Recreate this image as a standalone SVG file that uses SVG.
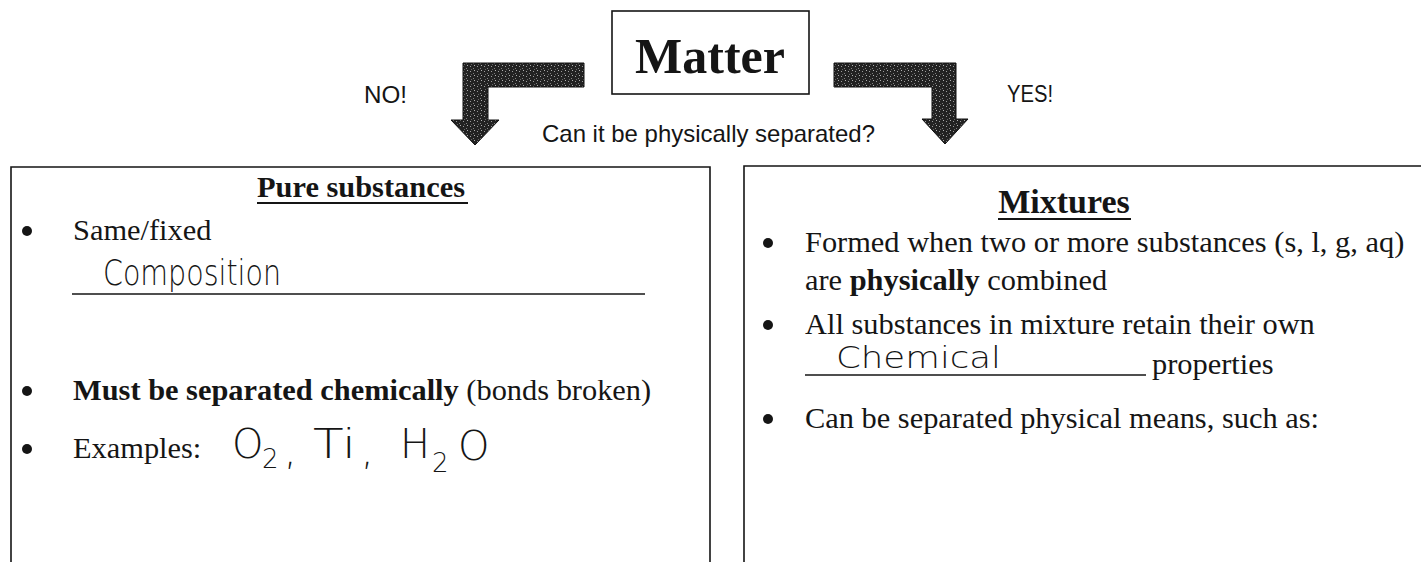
<svg xmlns="http://www.w3.org/2000/svg" width="1421" height="562" viewBox="0 0 1421 562">
<style>
.body{font-family:"Liberation Serif","Times New Roman",serif;font-size:30.4px;fill:#151515}
.b{font-weight:bold}
.sans{font-family:"Liberation Sans",Arial,sans-serif;font-size:24px;fill:#151515}
.hand{font-family:"DejaVu Sans",sans-serif;font-weight:200;fill:#151515}
.frame{fill:none;stroke:#151515;stroke-width:1.6}
.ul{stroke:#151515;stroke-width:2.2}
.blank{stroke:#151515;stroke-width:1.6}
.arrow{fill:url(#speck);stroke:#111;stroke-width:1}
</style>
<defs>
<pattern id="speck" width="7" height="5" patternUnits="userSpaceOnUse">
<rect width="7" height="5" fill="#222"/>
<rect x="1" y="1" width="1" height="1" fill="#9a9a9a"/>
<rect x="4" y="3" width="1" height="1" fill="#808080"/>
<rect x="5" y="0" width="1" height="1" fill="#b0b0b0"/>
<rect x="2" y="4" width="1" height="1" fill="#666"/>
</pattern>
</defs>
<rect width="1421" height="562" fill="#ffffff"/>

<g id="matter">
<rect x="612" y="11" width="197" height="83" class="frame"/>
<text x="710" y="73" text-anchor="middle" class="body b" style="font-size:50px">Matter</text>
</g>

<g id="connectors">
<polygon class="arrow" points="584,63 463,63 463,120 451,120 475,145 499,120 488,120 488,87 584,87"/>
<polygon class="arrow" points="834,63 956,63 956,119 968,119 945,144 922,119 932,119 932,87 834,87"/>
</g>

<g id="labels">
<text x="364" y="103" class="sans" textLength="43" lengthAdjust="spacingAndGlyphs">NO!</text>
<text x="1007" y="102" class="sans" textLength="46" lengthAdjust="spacingAndGlyphs">YES!</text>
<text x="542" y="142" class="sans" textLength="333" lengthAdjust="spacingAndGlyphs">Can it be physically separated?</text>
</g>

<g id="pure-substances">
<path class="frame" d="M11,562 V167 H710 V562"/>
<text x="257" y="197" class="body b">Pure substances</text>
<line class="ul" x1="257" y1="203" x2="468" y2="203"/>
<circle cx="27" cy="231" r="5" fill="#151515"/>
<text x="73" y="240" class="body">Same/fixed</text>
<text x="103" y="285" class="hand" style="font-size:36px" textLength="178" lengthAdjust="spacingAndGlyphs">Composition</text>
<line class="blank" x1="72" y1="294" x2="645" y2="294"/>
<circle cx="27" cy="391" r="5" fill="#151515"/>
<text x="73" y="400" class="body"><tspan class="b">Must be separated chemically</tspan> (bonds broken)</text>
<circle cx="27" cy="449" r="5" fill="#151515"/>
<text x="73" y="458" class="body">Examples:</text>
<text x="232" y="458" class="hand" style="font-size:40px">O</text>
<text x="262" y="468" class="hand" style="font-size:26px">2</text>
<text x="284" y="464" class="hand" style="font-size:40px">,</text>
<text x="313" y="458" class="hand" style="font-size:40px" textLength="43" lengthAdjust="spacingAndGlyphs">Ti</text>
<text x="361" y="464" class="hand" style="font-size:40px">,</text>
<text x="400" y="458" class="hand" style="font-size:40px" textLength="30" lengthAdjust="spacingAndGlyphs">H</text>
<text x="432" y="472" class="hand" style="font-size:26px">2</text>
<text x="458" y="460" class="hand" style="font-size:40px">O</text>
</g>

<g id="mixtures">
<path class="frame" d="M744,562 V166 H1421"/>
<text x="1064" y="213" text-anchor="middle" class="body b" style="font-size:34px">Mixtures</text>
<line class="ul" x1="998" y1="219" x2="1131" y2="219"/>
<circle cx="768" cy="243" r="5" fill="#151515"/>
<text x="805" y="252" class="body">Formed when two or more substances (s, l, g, aq)</text>
<text x="805" y="290" class="body">are <tspan class="b">physically</tspan> combined</text>
<circle cx="768" cy="325" r="5" fill="#151515"/>
<text x="805" y="334" class="body">All substances in mixture retain their own</text>
<text x="836" y="368" class="hand" style="font-size:31px" textLength="165" lengthAdjust="spacingAndGlyphs">Chemical</text>
<line class="blank" x1="805" y1="375" x2="1146" y2="375"/>
<text x="1152" y="374" class="body">properties</text>
<circle cx="768" cy="419" r="5" fill="#151515"/>
<text x="805" y="428" class="body">Can be separated physical means, such as:</text>
</g>
</svg>
